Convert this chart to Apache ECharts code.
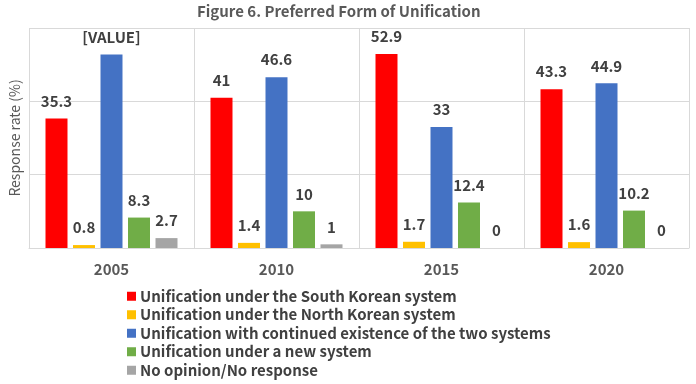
<!DOCTYPE html>
<html><head><meta charset="utf-8">
<script src="https://cdn.jsdelivr.net/npm/echarts@6/dist/echarts.min.js"></script>
<style>html,body{margin:0;padding:0;background:#fff}#c{width:696px;height:384px}</style>
</head><body><div id="c"></div>
<script>
var categories = ['2005', '2010', '2015', '2020'];
var seriesNames = [
  'Unification under the South Korean system',
  'Unification under the North Korean system',
  'Unification with continued existence of the two systems',
  'Unification under a new system',
  'No opinion/No response'
];
var southKorean = [35.3, 41, 52.9, 43.3];
var northKorean = [0.8, 1.4, 1.7, 1.6];
var twoSystems = [52.8, 46.6, 33, 44.9];
var newSystem = [8.3, 10, 12.4, 10.2];
var noOpinion = [2.7, 1, 0, 0];
var labelTexts = [null, null, ['[VALUE]', '46.6', '33', '44.9'], null, null];
var colors = ['#FF0000', '#FFC000', '#4472C4', '#70AD47', '#A5A5A5'];
var yTicks = [0, 20, 40, 60];

var F = '"Noto Sans CJK KR", "Noto Sans", sans-serif';
var all = [southKorean, northKorean, twoSystems, newSystem, noOpinion];
var series = all.map(function (d, i) {
  return {
    name: seriesNames[i], type: 'bar', data: d,
    barGap: '25%', barCategoryGap: '20%',
    itemStyle: { color: colors[i] },
    label: {
      show: true, position: 'top', distance: 10,
      fontFamily: F, fontSize: 15, fontWeight: 'bold', color: '#404040',
      formatter: function (p) { return labelTexts[i] ? labelTexts[i][p.dataIndex] : String(p.value); }
    }
  };
});
var chart = echarts.init(document.getElementById('c'));
chart.setOption({
  animation: false,
  title: { text: 'Figure 6. Preferred Form of Unification', left: 197, top: 4, padding: 0,
    textStyle: { fontFamily: F, fontSize: 15, fontWeight: 'bold', color: '#595959' } },
  grid: { left: 27, right: 7, top: 28, bottom: 136, containLabel: false },
  legend: {
    orient: 'vertical', left: 127, top: 287, padding: 0, itemWidth: 9, itemHeight: 9, itemGap: 0,
    icon: 'rect', data: seriesNames,
    textStyle: { fontFamily: F, fontSize: 15, lineHeight: 18.5, fontWeight: 'bold', color: '#404040', padding: [0, 0, 0, -1] }
  },
  xAxis: {
    type: 'category', data: categories,
    axisLine: { lineStyle: { color: '#d9d9d9' } },
    axisTick: { show: false },
    splitLine: { show: true, lineStyle: { color: '#d9d9d9' } },
    axisLabel: { fontFamily: F, fontSize: 15, fontWeight: 'bold', color: '#595959', margin: 14 }
  },
  yAxis: {
    type: 'value', min: yTicks[0], max: yTicks[yTicks.length - 1], interval: 20,
    name: 'Response rate (%)', nameLocation: 'middle', nameGap: 7,
    nameTextStyle: { fontFamily: F, fontSize: 14, color: '#595959' },
    axisLabel: { show: false }, axisLine: { show: false }, axisTick: { show: false },
    splitLine: { lineStyle: { color: '#d9d9d9' } }
  },
  series: series
});
</script></body></html>
